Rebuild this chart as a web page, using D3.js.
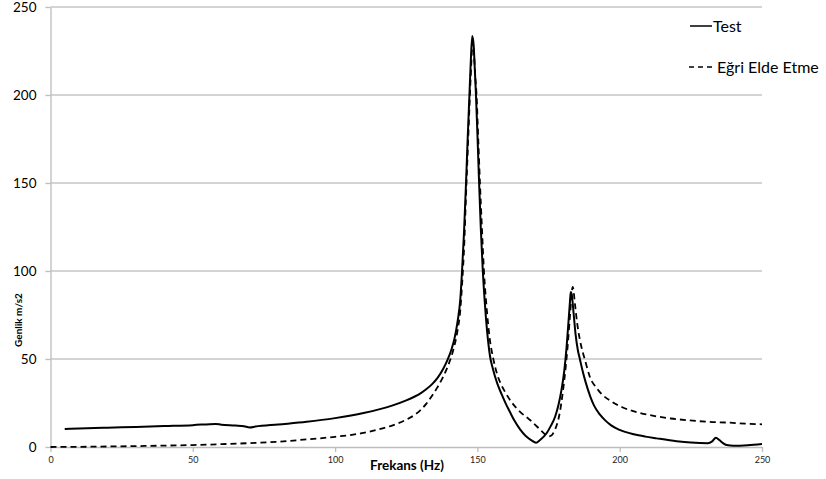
<!DOCTYPE html>
<html><head><meta charset="utf-8">
<script src="https://cdn.jsdelivr.net/npm/d3@7/dist/d3.min.js"></script>
<style>body{margin:0;background:#fff;} svg{display:block;}</style>
</head><body>
<svg id="c" width="826" height="479"></svg>
<script>
const yTicks = [0, 50, 100, 150, 200, 250];
const xTicks = [0, 50, 100, 150, 200, 250];
const seriesNames = ["Test", "Eğri Elde Etme"];

const testF = [5,10,20,30,40,50,58,60,65,68,70,72,80,90,100,110,120,125,128,130,132,134,136,138,139.5,141,142,143,144,144.6,145.3,146,146.6,147.2,147.7,148.2,148.7,149.1,149.5,150,150.6,151.2,151.9,152.6,153.4,154.4,155.5,157,158.5,160,161.4,163,165,167,169,170.6,172,174.3,175.8,177.3,178.5,179.5,180.5,181.3,182,182.5,182.8,183.2,183.8,184.5,185.3,186,187,188,189.7,191,193,195,197,200,205,209,213,220,225,231,232.5,233.8,235,236.3,237.6,240,245,250];
const testV = [10.2,10.5,11.0,11.4,11.9,12.4,13.1,12.7,12.2,11.8,11.1,11.6,12.8,14.3,16.4,19.3,23.5,26.5,28.7,30.5,32.8,35.6,39.3,44.5,49.5,56,62,71,84,100,122,150,176,200,220,233.5,228,214,200,178,150,124,100,82,66,52,44,36,30,24.5,20,15,10,6.2,3.8,2.4,4,7.8,12,17.2,24,32,43,56,71,82,88,86,76,64,55,50,43,37,28.5,23.5,18.5,15,12.3,9.7,7.2,5.9,4.9,3.3,2.5,2.1,3.2,5.3,4,2.2,1.1,0.7,1.0,1.7];

const fitF = [0,10,20,30,40,50,60,70,80,87.7,100,110,114.6,120,125,128,130,132,134,136,138,140,141.5,143,144,144.6,145.4,146,146.6,147.2,147.8,148.3,148.8,149.2,149.7,150.3,150.9,151.6,152.3,153.2,154.3,155.6,157,158.5,160,162,165,168,169,171,173.2,174.9,176,177,178,179,180,181,181.8,182.6,183.5,184.3,185,186,187,187.8,189.6,191.9,193.1,197,201.3,207,213,218,224.7,231,238.8,244,250];
const fitV = [0,0.1,0.3,0.5,0.8,1.1,1.6,2.2,3.0,4.0,5.8,8,9.7,12.2,15.5,18.3,21,24.5,29,34,40,47.5,55,66,78,92,116,143,168,193,216,230,224,212,200,175,150,124,100,80,62,50,41,35,30.5,25.5,20,16,14.6,11.5,8,6,6.5,9,13,20,31,45,59,76,91,81,71,61,54,49.4,39.5,33.5,31,26,22.3,19.4,17.4,16.2,15.1,14.3,13.8,13.3,12.9];

const svg = d3.select("#c");
const L = 50.5, R = 762, T = 7, B = 447;
const x = d3.scaleLinear().domain([0, 250]).range([L, R]);
const y = d3.scaleLinear().domain([0, 250]).range([B, T]);
const font = "Lato, 'Open Sans', sans-serif";

// gridlines
svg.append("g").selectAll("line").data(yTicks.filter(d => d > 0)).join("line")
  .attr("x1", L).attr("x2", R).attr("y1", d => y(d)).attr("y2", d => y(d))
  .attr("stroke", "#c6c6c6").attr("stroke-width", 1.3);

// y axis
const ya = svg.append("g").attr("transform", `translate(${L},0)`)
  .call(d3.axisLeft(y).tickValues(yTicks).tickSize(5).tickPadding(9).tickSizeOuter(0));
ya.select(".domain").attr("stroke", "#bdbdbd").attr("stroke-width", 1.3);
ya.selectAll(".tick line").attr("stroke", "#bdbdbd").attr("stroke-width", 1.3);
ya.selectAll(".tick text").attr("font-family", font).attr("font-size", 13.5).attr("fill", "#000");

// x axis
const xa = svg.append("g").attr("transform", `translate(0,${B})`)
  .call(d3.axisBottom(x).tickValues(xTicks).tickSize(5).tickPadding(5).tickSizeOuter(0));
xa.select(".domain").attr("stroke", "#bdbdbd").attr("stroke-width", 1.3);
xa.selectAll(".tick line").attr("stroke", "#bdbdbd").attr("stroke-width", 1.3);
xa.selectAll(".tick text").attr("font-family", font).attr("font-size", 9).attr("fill", "#222");

// lines
const line = d3.line().x(d => x(d[0])).y(d => y(d[1])).curve(d3.curveMonotoneX);
const testData = d3.zip(testF, testV);
const fitData = d3.zip(fitF, fitV);
svg.append("path").datum(fitData).attr("d", line).attr("fill", "none")
  .attr("stroke", "#000").attr("stroke-width", 1.8).attr("stroke-dasharray", "6,4");
svg.append("path").datum(testData).attr("d", line).attr("fill", "none")
  .attr("stroke", "#000").attr("stroke-width", 2);

// axis titles
svg.append("text").attr("x", 407).attr("y", 470).attr("text-anchor", "middle")
  .attr("font-family", font).attr("font-weight", "bold").attr("font-size", 13.5).attr("fill", "#000")
  .text("Frekans (Hz)");
svg.append("text").attr("transform", "translate(22,320) rotate(-90)").attr("text-anchor", "middle")
  .attr("font-family", font).attr("font-weight", "bold").attr("font-size", 10).attr("fill", "#000")
  .text("Genlik m/s2");

// legend
const lg = svg.append("g");
lg.append("line").attr("x1", 690).attr("x2", 712).attr("y1", 26).attr("y2", 26)
  .attr("stroke", "#000").attr("stroke-width", 1.5);
lg.append("text").attr("x", 713).attr("y", 31.5).attr("font-family", font).attr("font-size", 16)
  .attr("fill", "#000").text(seriesNames[0]);
lg.append("line").attr("x1", 689).attr("x2", 714).attr("y1", 67).attr("y2", 67)
  .attr("stroke", "#000").attr("stroke-width", 1.5).attr("stroke-dasharray", "5,4");
lg.append("text").attr("x", 717).attr("y", 72.5).attr("font-family", font).attr("font-size", 16)
  .attr("fill", "#000").text(seriesNames[1]);
</script>
</body></html>
